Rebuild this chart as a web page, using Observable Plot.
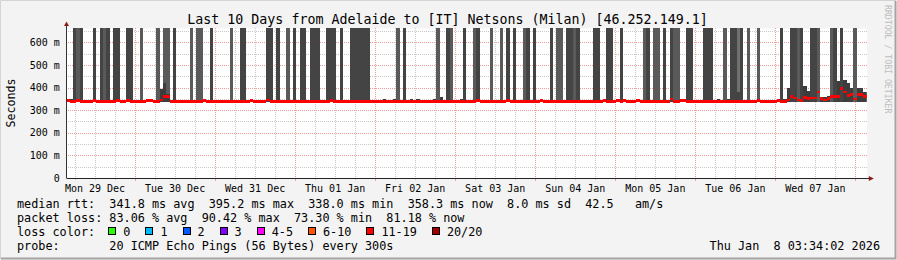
<!DOCTYPE html>
<html><head><meta charset="utf-8">
<script src="https://cdn.jsdelivr.net/npm/d3@7"></script>
<script src="https://cdn.jsdelivr.net/npm/@observablehq/plot@0.6"></script>
<style>
html,body{margin:0;padding:0;background:#f3f3f3;}
#wrap{position:relative;width:897px;height:260px;background:#f3f3f3;overflow:hidden;}
#wrap svg{display:block;}
</style></head><body><div id="wrap"></div>
<script>
// ---- data (hours since Mon 29 Dec 00:00 local) ----
const startHour = 3.567, endHour = 243.567;   // now-10d .. Thu Jan 8 03:34:02
const dayLabels = ["Mon 29 Dec","Tue 30 Dec","Wed 31 Dec","Thu 01 Jan","Fri 02 Jan","Sat 03 Jan","Sun 04 Jan","Mon 05 Jan","Tue 06 Jan","Wed 07 Jan"];
const dayNoon = [12,36,60,84,108,132,156,180,204,228];
const yTicks = [0,100,200,300,400,500,600];
const yTickLabels = ["0","100 m","200 m","300 m","400 m","500 m","600 m"];

// smoke reaching beyond the top of the axis
const tallFrom  = [5.5,6.5,11.5,13.5,14.5,17.5,21.5,25.5,30.5,32.5,35.5,40.5,42.5,46.5,52.5,55.5,63.5,66.5,69.5,71.5,73.5,76.5,81.5,85.5,88.5,102.5,104.5,114.5,117.5,118.5,122.5,125.5,126.5,130.5,133.5,135.5,137.5,140.5,141.5,143.5,148.5,150.5,153.5,155.5,156.5,161.5,165.5,169.5,176.5,177.5,179.5,182.5,184.5,185.5,189.5,194.5,200.5,202.5,207.5,210.5,217.5,220.5,222.5,223.5,226.5,228.5,232.5,233.5,235.5,239.5];
const tallTo    = [8.5,7.5,12.5,16.5,15.5,19.5,23.5,26.5,31.5,34.5,36.5,41.5,44.5,47.5,53.5,57.5,65.5,67.5,70.5,72.5,75.5,79.5,84.5,86.5,94.5,103.5,105.5,115.5,118.5,119.5,123.5,126.5,127.5,131.5,134.5,136.5,138.5,141.5,142.5,144.5,149.5,152.5,155.5,156.5,157.5,163.5,167.5,170.5,177.5,178.5,181.5,183.5,185.5,187.5,191.5,197.5,201.5,206.5,208.5,211.5,218.5,222.5,223.5,224.5,228.5,229.5,233.5,234.5,236.5,240.5];
const tallShade = [0,1,0,0,1,0,0,1,1,1,0,1,1,0,1,0,0,0,1,0,0,0,0,0,0,1,0,1,0,1,0,1,0,1,1,0,0,1,0,0,0,1,0,1,0,0,0,0,1,0,1,0,0,1,0,0,1,0,1,1,0,0,1,0,0,1,1,0,0,1];
// lighter upper smoke
const veilFrom = [204.5], veilTo = [205.5], veilLow = [380];
// smoke topping out inside the chart (ms)
const partFrom = [3.567,31.5,32.5,33.5,98.5,101.5,106.5,108.5,113.5,115.5,121.5,145.5,164.5,174.5,198.5,201.5,208.5,218.5,219.5,224.5,225.5,229.5,230.5,231.5,234.5,236.5,237.5,238.5,240.5,242.5];
const partTo   = [5.5,32.5,33.5,34.5,99.5,102.5,107.5,109.5,114.5,116.5,122.5,146.5,165.5,175.5,199.5,202.5,209.5,219.5,220.5,225.5,226.5,230.5,231.5,232.5,235.5,237.5,238.5,239.5,242.5,243.567];
const partTop  = [349,393,418,371,349,348,347,347,347,356,347,348,348,348,348,348,346,350,400,408,386,360,357,362,430,434,420,400,398,380];
// median rtt (ms), step starts
const medianStart = [3.567,4.5,6.5,7.5,11.5,12.5,18.5,19.5,21.5,22.5,27.5,29.5,31.5,32.5,34.5,44.5,45.5,58.5,59.5,63.5,64.5,82.5,83.5,126.5,127.5,135.5,136.5,145.5,146.5,164.5,165.5,168.5,169.5,170.5,171.5,174.5,175.5,184.5,185.5,187.5,189.5,210.5,211.5,216.5,217.5,219.5,220.5,221.5,222.5,223.5,224.5,225.5,226.5,228.5,229.5,230.5,231.5,232.5,234.5,235.5,236.5,237.5,238.5,239.5,240.5,242.5];
const medianMs    = [343,338,343,338,342,338,343,338,343,338,343,338,345,360,338,343,338,343,338,344,338,343,338,343,338,343,338,343,338,343,338,342,338,343,338,343,338,350,338,343,338,342,338,342,338,345,361,354,345,342,356,351,354,380,351,345,351,360,361,395,381,364,369,349,369,360];

const lossLabels = ["0","1","2","3","4-5","6-10","11-19","20/20"];
const lossColors = ["#26ff00","#00b8ff","#0059ff","#7e00ff","#ff00ff","#ff5500","#ff0000","#a10000"];
const statLines = [
  "median rtt:  341.8 ms avg  395.2 ms max  338.0 ms min  358.3 ms now  8.0 ms sd  42.5   am/s",
  "packet loss: 83.06 % avg  90.42 % max  73.30 % min  81.18 % now"
];
const probeLine = "probe:       20 ICMP Echo Pings (56 Bytes) every 300s";
const stampText = "Thu Jan  8 03:34:02 2026";
const titleText = "Last 10 Days from Adelaide to [IT] Netsons (Milan) [46.252.149.1]";

// ---- build ----
const yMax = 663, plotH = 150, msPx = yMax / plotH, floorMs = 337, offTop = 700;
const shadeColors = ["#444444", "#5a5a5a", "#707070"];
const tall = tallFrom.map((f, i) => ({x1: f, x2: tallTo[i], y1: floorMs, y2: offTop, c: shadeColors[tallShade[i]]}));
const veil = veilFrom.map((f, i) => ({x1: f, x2: veilTo[i], y1: veilLow[i], y2: offTop}));
const part = partFrom.map((f, i) => ({x1: f, x2: partTo[i], y1: floorMs, y2: partTop[i]}));
const med = medianStart.map((s, i) => ({x1: s, x2: i + 1 < medianStart.length ? medianStart[i + 1] : endHour, v: medianMs[i]}));

const minorX = d3.range(6, endHour, 6).filter(h => h >= startHour && h % 24 !== 0);
const majorX = d3.range(24, endHour, 24);
const minorY = d3.range(50, yMax, 100);
const majorY = d3.range(100, yMax, 100);
const font = "'DejaVu Sans Mono', monospace";

const plot = Plot.plot({
  width: 897, height: 260,
  marginLeft: 66.4, marginRight: 30.2, marginTop: 28, marginBottom: 82,
  x: {domain: [startHour, endHour]},
  y: {domain: [0, yMax]},
  style: {background: "transparent", fontFamily: font, fontSize: "10px", color: "#000", overflow: "visible"},
  marks: [
    Plot.frame({fill: "white", stroke: "none"}),
    Plot.ruleX(minorX, {stroke: "#c8c8c8", strokeDasharray: "1,1", shapeRendering: "crispEdges"}),
    Plot.ruleY(minorY, {stroke: "#c8c8c8", strokeDasharray: "1,1", shapeRendering: "crispEdges"}),
    Plot.ruleX(majorX, {stroke: "#f19a9a", strokeDasharray: "1,1", shapeRendering: "crispEdges"}),
    Plot.ruleY(majorY, {stroke: "#f19a9a", strokeDasharray: "1,1", shapeRendering: "crispEdges"}),
    Plot.rect(tall, {x1: "x1", x2: "x2", y1: "y1", y2: "y2", fill: "c", clip: true, shapeRendering: "crispEdges"}),
    Plot.rect(veil, {x1: "x1", x2: "x2", y1: "y1", y2: "y2", fill: shadeColors[2], clip: true, shapeRendering: "crispEdges"}),
    Plot.rect(part, {x1: "x1", x2: "x2", y1: "y1", y2: "y2", fill: "#3d3d3d", clip: true, shapeRendering: "crispEdges"}),
    Plot.rect(med, {x1: "x1", x2: "x2", y1: d => d.v - 1.25 * msPx, y2: d => d.v + 1.25 * msPx, fill: "#ff0000", clip: true, shapeRendering: "crispEdges"}),
    Plot.ruleX(minorX, {y1: 0, y2: -2 * msPx, stroke: "#c8c8c8", shapeRendering: "crispEdges"}),
    Plot.ruleX(majorX, {y1: 0, y2: -3 * msPx, stroke: "#f19a9a", shapeRendering: "crispEdges"}),
    Plot.axisY({ticks: yTicks, tickFormat: d => yTickLabels[yTicks.indexOf(d)], tickSize: 0, tickPadding: 7, label: null, fontSize: 10}),
    Plot.axisX({ticks: dayNoon, tickFormat: d => dayLabels[dayNoon.indexOf(d)], tickSize: 0, tickPadding: 6, label: null, fontSize: 10})
  ]
});

document.getElementById("wrap").appendChild(plot);
const svg = d3.select(plot);
const sx = plot.scale("x"), sy = plot.scale("y");
const x0 = sx.apply(startHour), x1 = sx.apply(endHour), y0 = sy.apply(0), yTop = sy.apply(yMax);

// frame shading of the canvas
svg.insert("rect", ":first-child").attr("x", 0).attr("y", 0).attr("width", 897).attr("height", 260).attr("fill", "#f3f3f3");
svg.append("path").attr("d", "M0.5,259 V0.5 H896").attr("stroke", "#d4d4d4").attr("fill", "none");
svg.append("path").attr("d", "M1,258.5 H895.5 V1").attr("stroke", "#a4a4a4").attr("stroke-width", 2).attr("fill", "none");

// axis lines with arrows
const ax = Math.round(x0) + 0.5;
svg.append("line").attr("x1", ax).attr("x2", x1 + 3).attr("y1", Math.round(y0) + 0.5).attr("y2", Math.round(y0) + 0.5).attr("stroke", "#222");
svg.append("line").attr("x1", ax).attr("x2", ax).attr("y1", y0).attr("y2", yTop - 4).attr("stroke", "#333");
svg.append("path").attr("d", `M${x1 + 2},${Math.round(y0) - 2} L${x1 + 7},${Math.round(y0) + 0.5} L${x1 + 2},${Math.round(y0) + 3} Z`).attr("fill", "#8b1a1a");
svg.append("path").attr("d", `M${ax - 2.5},${yTop - 2} L${ax},${yTop - 6.5} L${ax + 2.5},${yTop - 2} Z`).attr("fill", "#8b1a1a");

// texts
const T = (x, y, s, size, opts = {}) => {
  const t = svg.append("text").attr("x", x).attr("y", y).text(s)
    .attr("font-family", font).attr("font-size", size).attr("fill", opts.fill || "#000")
    .attr("text-anchor", opts.anchor || "start")
    .style("white-space", "pre");
  if (opts.transform) t.attr("transform", opts.transform).attr("x", 0).attr("y", 0);
  return t;
};
T(447.5, 24, titleText, 13.3, {anchor: "middle"});
T(0, 0, "Seconds", 11.6, {anchor: "middle", transform: "translate(15,103) rotate(-90)"});
T(0, 0, "RRDTOOL / TOBI OETIKER", 8.2, {fill: "#bdbdbd", transform: "translate(885,5) rotate(90)"});

const cw = 7.1, lx = 17, fs = 11.8;
T(lx, 208, statLines[0], fs);
T(lx, 222, statLines[1], fs);
T(lx, 236, "loss color:", fs);
let bx = lx + 13 * cw - 1;
lossLabels.forEach((lab, i) => {
  svg.append("rect").attr("x", Math.round(bx) + 0.5).attr("y", 227.5).attr("width", 7).attr("height", 7)
    .attr("fill", lossColors[i]).attr("stroke", "#000");
  T(bx + 15, 236, lab, fs);
  bx = bx + 15 + lab.length * cw + 15;
});
T(lx, 250, probeLine, fs);
T(880, 250, stampText, fs, {anchor: "end"});
</script></body></html>
